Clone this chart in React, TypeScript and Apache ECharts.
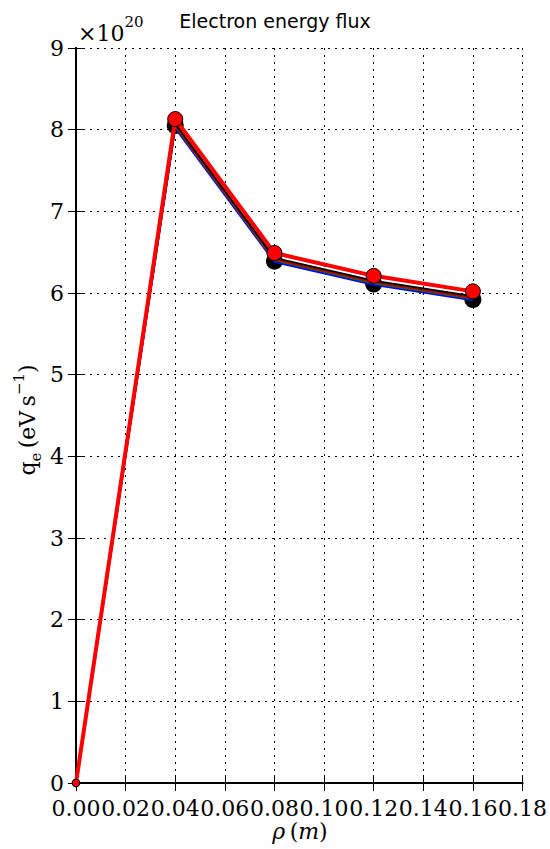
import React, { useEffect, useRef } from "react";
import * as echarts from "echarts";

const xValues = [0, 0.04, 0.08, 0.12, 0.16];
const blackMarkerY = [0, 8.05, 6.39, 6.11, 5.92];
const blueY = [0, 8.02, 6.38, 6.1, 5.91];
const greenY = [0, 8.04, 6.4, 6.12, 5.93];
const darkRedY = [0, 8.05, 6.41, 6.13, 5.94];
const blackLineY = [0, 8.07, 6.43, 6.15, 5.96];
const redY = [0, 8.13, 6.49, 6.21, 6.02];

const xMin = 0;
const xMax = 0.18;
const xStep = 0.02;
const yMin = 0;
const yMax = 9;
const yStep = 1;

const SERIF = "DejaVu Serif";

function pairs(ys: number[]) {
  return xValues.map((x, i) => [x, ys[i]]);
}

export default function App() {
  const ref = useRef<HTMLDivElement>(null);
  useEffect(() => {
    document.body.style.margin = "0";
    const chart = echarts.init(ref.current!, null, { renderer: "svg" });
    const gridLine = { show: true, lineStyle: { color: "#000", width: 1, type: [2, 5] as any } };
    const axisLine = { show: true, lineStyle: { color: "#000", width: 2 } };
    const tick = { show: true, inside: true, length: 8, lineStyle: { color: "#000", width: 1 } };
    const lineSeries = (name: string, ys: number[], color: string, width: number, z: number) => ({
      name,
      type: "line",
      data: pairs(ys),
      showSymbol: false,
      symbol: "none",
      lineStyle: { color, width },
      z,
    });
    // markers at the axes corner are clipped by the axes in the reference; show a smaller one there
    const markSize = (full: number) => (v: number[]) => (v[0] === xMin && v[1] === yMin ? full / 2 : full);
    chart.setOption({
      animation: false,
      backgroundColor: "#fff",
      title: {
        text: "Electron energy flux",
        left: "center",
        top: 6,
        textStyle: { fontFamily: "DejaVu Sans", fontSize: 19, fontWeight: "normal", color: "#000" },
      },
      grid: { left: 76, right: 25, top: 48, bottom: 66 },
      xAxis: [
        {
          type: "value",
          min: xMin,
          max: xMax,
          interval: xStep,
          axisLine,
          axisTick: tick,
          splitLine: gridLine,
          axisLabel: {
            color: "#000",
            fontFamily: SERIF,
            fontSize: 22,
            lineHeight: 18,
            margin: 16,
            showMinLabel: true,
            showMaxLabel: true,
            formatter: (v: number) => v.toFixed(2),
          },
        },
        {
          type: "value",
          position: "top",
          min: xMin,
          max: xMax,
          interval: xStep,
          axisLine,
          axisTick: tick,
          splitLine: { show: false },
          axisLabel: { show: false },
        },
      ],
      yAxis: [
        {
          type: "value",
          min: yMin,
          max: yMax,
          interval: yStep,
          axisLine,
          axisTick: tick,
          splitLine: gridLine,
          axisLabel: {
            color: "#000",
            fontFamily: SERIF,
            fontSize: 22,
            lineHeight: 18,
            margin: 12,
            formatter: (v: number) => String(Math.round(v)),
          },
        },
        {
          type: "value",
          position: "right",
          min: yMin,
          max: yMax,
          interval: yStep,
          axisLine,
          axisTick: tick,
          splitLine: { show: false },
          axisLabel: { show: false },
        },
      ],
      series: [
        {
          name: "black",
          type: "line",
          data: pairs(blackMarkerY),
          symbol: "circle",
          symbolSize: markSize(17),
          itemStyle: { color: "#000" },
          lineStyle: { color: "#000", width: 2 },
          z: 2,
        },
        lineSeries("blue", blueY, "#0000ff", 2, 3),
        lineSeries("green", greenY, "#008000", 2, 4),
        lineSeries("darkred", darkRedY, "#c00000", 2, 5),
        lineSeries("black2", blackLineY, "#000", 2, 6),
        {
          name: "red",
          type: "line",
          data: pairs(redY),
          symbol: "circle",
          symbolSize: markSize(15),
          itemStyle: { color: "#ff0000", borderColor: "#000", borderWidth: 1 },
          lineStyle: { color: "#ff0000", width: 4 },
          z: 7,
        },
      ],
      graphic: [
        {
          type: "text",
          x: 78,
          y: 14,
          style: {
            text: "{a|×10}{b|20}",
            verticalAlign: "top",
            rich: {
              a: { fontFamily: SERIF, fontSize: 22, lineHeight: 30, verticalAlign: "bottom", fill: "#000" },
              b: { fontFamily: SERIF, fontSize: 15, lineHeight: 30, verticalAlign: "top", fill: "#000" },
            },
          },
        },
        {
          type: "text",
          x: 27,
          y: 420,
          rotation: Math.PI / 2,
          style: {
            text: "{n|q}{s|e}{n|\u2009(eV\u2009s}{p|−1}{n|)}",
            align: "center",
            verticalAlign: "middle",
            rich: {
              n: { fontFamily: SERIF, fontSize: 22, lineHeight: 32, verticalAlign: "middle", fill: "#000" },
              s: { fontFamily: SERIF, fontSize: 15, lineHeight: 32, verticalAlign: "bottom", fill: "#000" },
              p: { fontFamily: SERIF, fontSize: 15, lineHeight: 32, verticalAlign: "top", fill: "#000" },
            },
          },
        },
        {
          type: "text",
          x: 300,
          y: 831,
          style: {
            text: "{i|ρ}{n|\u2009(}{i|m}{n|)}",
            align: "center",
            verticalAlign: "middle",
            rich: {
              i: { fontFamily: SERIF, fontSize: 22, fontStyle: "italic", fill: "#000" },
              n: { fontFamily: SERIF, fontSize: 22, fill: "#000" },
            },
          },
        },
      ],
    });
    return () => chart.dispose();
  }, []);
  return <div ref={ref} style={{ width: 550, height: 849 }} />;
}
